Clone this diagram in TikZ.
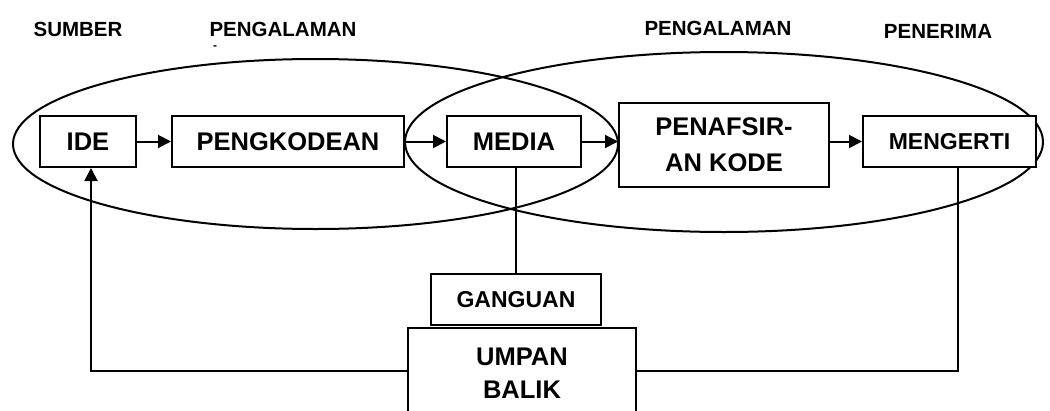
\documentclass[tikz,border=0pt]{standalone}
\usepackage{fontspec}
\setmainfont{Liberation Sans}
\usetikzlibrary{arrows.meta, positioning}
\begin{document}
\begin{tikzpicture}[x=1pt, y=-1pt,
      box/.style={rectangle, draw=black, line width=2pt, fill=white,
        align=center, inner sep=0pt, font=\fontsize{25.5}{33}\selectfont\bfseries},
      etiqueta/.style={inner sep=0pt, font=\fontsize{20.5}{24}\selectfont\bfseries},
      flecha/.style={-{Triangle[length=13pt, width=13pt]}, line width=2pt},
      linea/.style={line width=2pt}
    ]
      \useasboundingbox (0,0) rectangle (1050,410);

      \node[etiqueta] (sumber) at (78,29) {SUMBER};
      \node[etiqueta] (pengL) at (283,29) {PENGALAMAN};
      \node[inner sep=0pt, font=\fontsize{12}{14}\selectfont\bfseries] (dash) at (215,48) {-};
      \node[etiqueta] (pengR) at (718,28) {PENGALAMAN};
      \node[etiqueta] (penerima) at (938,31) {PENERIMA};

      \draw[linea] (315.5,144) ellipse [x radius=302.5, y radius=85];
      \draw[linea] (724,142) ellipse [x radius=319, y radius=90];

      \node[box, minimum width=96pt, minimum height=51pt] (ide) at (88,141.5) {IDE};
      \node[box, minimum width=232pt, minimum height=51pt] (kode) at (288,141.5) {PENGKODEAN};
      \node[box, minimum width=134pt, minimum height=51pt] (media) at (514,141.5) {MEDIA};
      \node[box, minimum width=210pt, minimum height=84pt,
        font=\fontsize{25.5}{36}\selectfont\bfseries] (tafsir) at (724,145) {PENAFSIR-\\AN KODE};
      \node[box, minimum width=173pt, minimum height=51pt,
        font=\fontsize{23}{28}\selectfont\bfseries] (mengerti) at (949.5,141.5) {MENGERTI};
      \node[box, minimum width=170pt, minimum height=51pt,
        font=\fontsize{23}{28}\selectfont\bfseries] (ganguan) at (516,299.5) {GANGUAN};
      \node[box, minimum width=228pt, minimum height=90pt] (umpan) at (522,373) {UMPAN\\BALIK};

      \coordinate (fbL) at (91,371);
      \coordinate (fbR) at (958,371);

      \draw[flecha] (ide) -- (kode);
      \draw[flecha] (kode) -- (media);
      \draw[flecha] (media) -- (tafsir.west |- media.east);
      \draw[flecha] (tafsir.east |- mengerti.west) -- (mengerti);
      \draw[linea] (ganguan.north) -- (ganguan.north |- media.south);
      \draw[flecha] (umpan.west |- fbL) -- (fbL) -- (fbL |- ide.south);
      \draw[linea] (umpan.east |- fbR) -- (fbR) -- (fbR |- mengerti.south);
    \end{tikzpicture}
\end{document}
